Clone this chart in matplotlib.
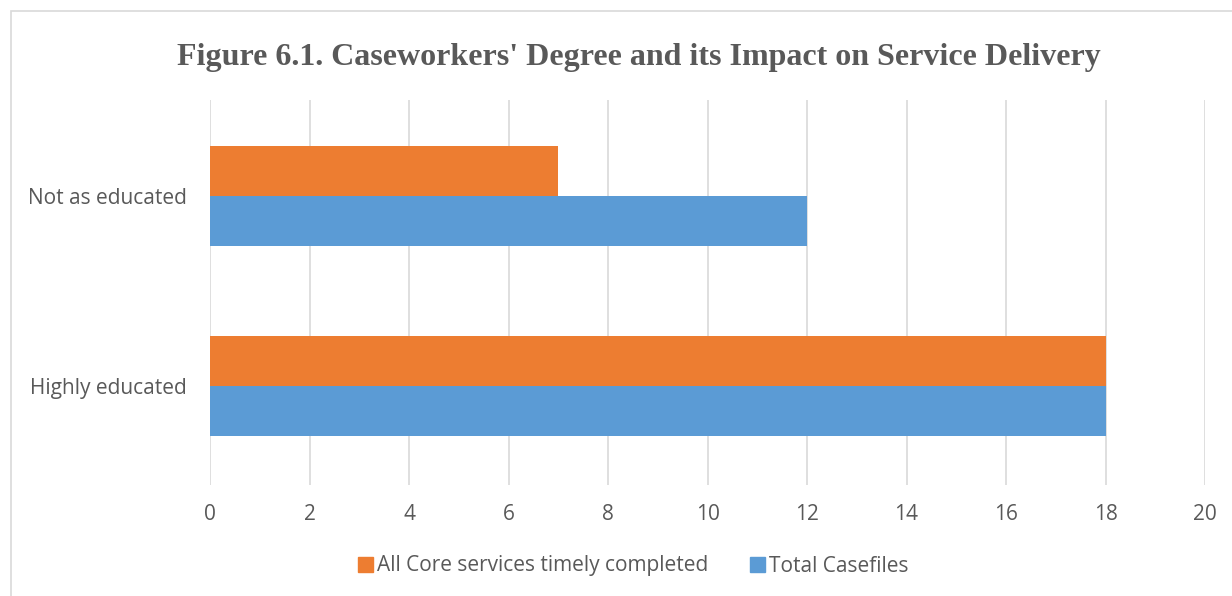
import matplotlib
matplotlib.use('Agg')
import matplotlib.pyplot as plt
from matplotlib.patches import Rectangle, Patch

# data
categories = ['Highly educated', 'Not as educated']
core_completed = [18, 7]
total_casefiles = [18, 12]
x_ticks = [0, 2, 4, 6, 8, 10, 12, 14, 16, 18, 20]

ORANGE = '#ED7D31'
BLUE = '#5B9BD5'
GREY_TXT = '#595959'
GRID = '#D9D9D9'

fig = plt.figure(figsize=(12.32, 5.96), dpi=100)
fig.patches.append(Rectangle((11 / 1232, -0.1), 1.2, 1 - 11 / 596 + 0.1,
                             transform=fig.transFigure, fill=False,
                             edgecolor=GRID, linewidth=1.2))

# axes placed to match pixel positions of the reference
ax = fig.add_axes([210 / 1232, (596 - 485) / 596, (1205 - 210) / 1232, (485 - 100) / 596])

h = 0.263
y = list(range(len(categories)))
ax.barh([v - h / 2 for v in y], total_casefiles, height=h, color=BLUE,
        label='Total Casefiles', zorder=3)
ax.barh([v + h / 2 for v in y], core_completed, height=h, color=ORANGE,
        label='All Core services timely completed', zorder=3)

ax.set_xlim(0, 20)
ax.set_ylim(-0.52, 1.505)
ax.set_xticks(x_ticks)
ax.set_yticks(y)
ax.set_yticklabels(categories)
ax.grid(axis='x', color=GRID, linewidth=1.2, zorder=0)
for s in ax.spines.values():
    s.set_visible(False)
ax.tick_params(length=0, labelsize=15, labelcolor=GREY_TXT)
ax.tick_params(axis='x', pad=14)
ax.tick_params(axis='y', pad=17)
for lbl in ax.get_xticklabels() + ax.get_yticklabels():
    lbl.set_family(['Open Sans', 'DejaVu Sans'])

fig.text(639 / 1232, 1 - 57 / 596,
         "Figure 6.1. Caseworkers' Degree and its Impact on Service Delivery",
         ha='center', va='center', fontsize=23, fontweight='bold',
         family=['Liberation Serif', 'DejaVu Serif'], color=GREY_TXT)

handles = [Patch(color=ORANGE), Patch(color=BLUE)]
labels = ['All Core services timely completed', 'Total Casefiles']
fig.legend(handles, labels, loc='center', bbox_to_anchor=(633 / 1232, 1 - 566 / 596),
           ncol=2, frameon=False, handlelength=0.72, handleheight=0.72,
           handletextpad=0.2, columnspacing=2.0,
           prop={'family': ['Open Sans', 'DejaVu Sans'], 'size': 15},
           labelcolor=GREY_TXT)

fig.savefig('out.png', dpi=100, facecolor='white')
